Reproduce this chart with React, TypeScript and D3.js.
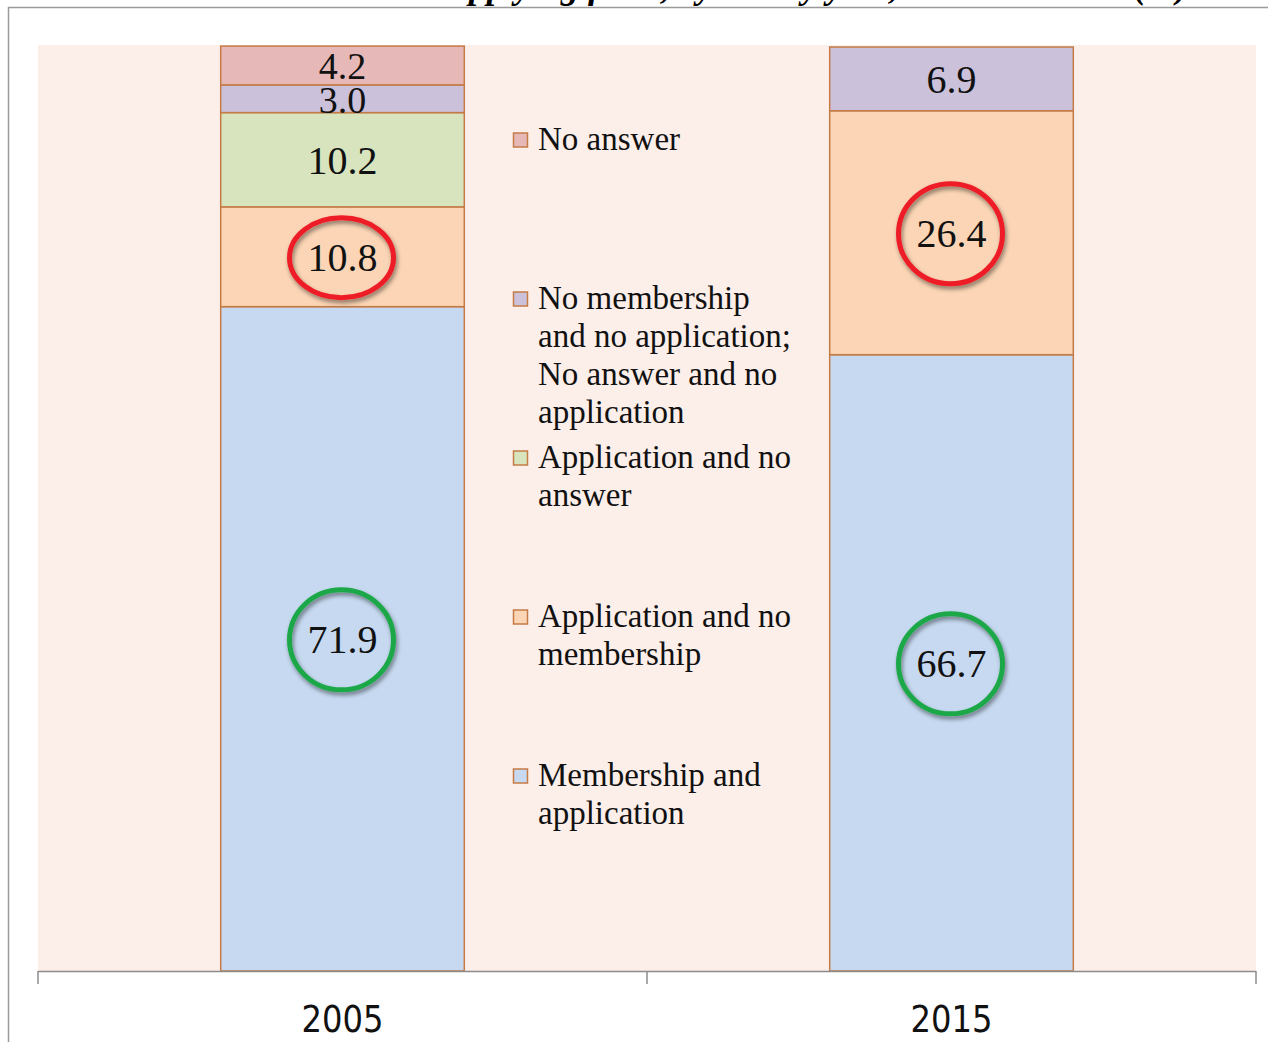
import { useRef, useEffect } from 'react';
import * as d3 from 'd3';

const categories = ["2005", "2015"];

// stacked from bottom to top
const seriesKeys = ["member", "appNoMember", "appNoAnswer", "noMemberNoApp", "noAnswer"];
const values2005 = [71.9, 10.8, 10.2, 3.0, 4.2];
const values2015 = [66.7, 26.4, 0, 6.9, 0];
const seriesColors = ["#C6D9F0", "#FBD5B5", "#D7E4BD", "#CCC1DA", "#E6B9B8"];

const legendLines = [
  ["Membership and", "application"],
  ["Application and no", "membership"],
  ["Application and no", "answer"],
  ["No membership", "and no application;", "No answer and no", "application"],
  ["No answer"],
];

// which series get the hand-drawn style rings
const redRingSeries = "appNoMember";
const greenRingSeries = "member";

const titleText = "Members and those applying for it, by survey year, 2005 and 2015 (%)";

const W = 1268;
const H = 1042;
const PLOT = { LEFT: 38, RIGHT: 1256, TOP: 47, BOTTOM: 971 };

const App = () => {
  const svgRef = useRef(null);

  useEffect(() => {
    const svg = d3.select(svgRef.current);
    svg.selectAll("*").remove();

    const rows = categories.map((c, i) => {
      const vals = i === 0 ? values2005 : values2015;
      const row = { cat: c };
      seriesKeys.forEach((k, j) => { row[k] = vals[j]; });
      return row;
    });
    const stacked = d3.stack().keys(seriesKeys)(rows);

    const xScale = d3.scaleBand()
      .domain(categories)
      .range([PLOT.LEFT, PLOT.RIGHT])
      .paddingInner(0)
      .paddingOuter(0);
    const barW = xScale.bandwidth() * 0.4;
    const barOff = (xScale.bandwidth() - barW) / 2;

    const yScale = d3.scaleLinear()
      .domain([0, 100])
      .range([PLOT.BOTTOM, PLOT.TOP]);

    const defs = svg.append("defs");
    const f = defs.append("filter").attr("id", "ringShadow")
      .attr("x", "-20%").attr("y", "-20%").attr("width", "140%").attr("height", "140%");
    f.append("feDropShadow")
      .attr("dx", 1.5).attr("dy", 3).attr("stdDeviation", 2)
      .attr("flood-color", "#000").attr("flood-opacity", 0.45);

    svg.append("rect").attr("width", W).attr("height", H).attr("fill", "#ffffff");

    // cut-off title above the frame
    svg.append("text")
      .attr("x", 1188)
      .attr("y", -2)
      .attr("text-anchor", "end")
      .attr("font-family", "'Liberation Serif', serif")
      .attr("font-style", "italic")
      .attr("font-weight", "bold")
      .attr("font-size", 36)
      .attr("fill", "#000")
      .text(titleText);

    // chart frame
    svg.append("path")
      .attr("d", `M8.5,${H} L8.5,7.5 L${W},7.5`)
      .attr("fill", "none")
      .attr("stroke", "#9a9a9a")
      .attr("stroke-width", 1.5);

    // plot area
    svg.append("rect")
      .attr("x", PLOT.LEFT)
      .attr("y", PLOT.TOP - 2)
      .attr("width", PLOT.RIGHT - PLOT.LEFT)
      .attr("height", PLOT.BOTTOM - PLOT.TOP + 2)
      .attr("fill", "#FCEEE9");

    const layers = svg.append("g").selectAll("g")
      .data(stacked)
      .enter().append("g")
      .attr("fill", (d, i) => seriesColors[i]);

    layers.selectAll("rect")
      .data(d => d.filter(s => s[1] - s[0] > 0))
      .enter().append("rect")
      .attr("x", d => xScale(d.data.cat) + barOff)
      .attr("y", d => yScale(d[1]))
      .attr("width", barW)
      .attr("height", d => yScale(d[0]) - yScale(d[1]))
      .attr("stroke", "#C47B45")
      .attr("stroke-width", 1.5);

    // value labels
    const labels = [];
    stacked.forEach((layer) => {
      layer.forEach((s) => {
        const v = s[1] - s[0];
        if (v <= 0) return;
        labels.push({
          key: layer.key,
          cx: xScale(s.data.cat) + xScale.bandwidth() / 2,
          cy: (yScale(s[0]) + yScale(s[1])) / 2,
          h: yScale(s[0]) - yScale(s[1]),
          v,
        });
      });
    });

    const ringed = labels.filter(l => l.key === redRingSeries || l.key === greenRingSeries);
    svg.append("g").selectAll("ellipse")
      .data(ringed)
      .enter().append("ellipse")
      .attr("cx", d => d.cx - 1)
      .attr("cy", d => d.cy + 1)
      .attr("rx", 52)
      .attr("ry", d => Math.min(50, d.h / 2 - 10))
      .attr("fill", "none")
      .attr("stroke", d => d.key === redRingSeries ? "#EE1C25" : "#1DA84A")
      .attr("stroke-width", 5)
      .attr("filter", "url(#ringShadow)");

    svg.append("g").selectAll("text")
      .data(labels)
      .enter().append("text")
      .attr("x", d => d.cx)
      .attr("y", d => d.cy + 14)
      .attr("text-anchor", "middle")
      .attr("font-family", "'Liberation Serif', serif")
      .attr("font-size", d => d.h < 45 ? 38 : 40)
      .attr("fill", "#111")
      .text(d => d.v.toFixed(1));

    // category axis, Excel style with ticks at band edges
    const ax = svg.append("g");
    ax.append("line")
      .attr("x1", PLOT.LEFT).attr("x2", PLOT.RIGHT)
      .attr("y1", PLOT.BOTTOM + 0.5).attr("y2", PLOT.BOTTOM + 0.5)
      .attr("stroke", "#8c8c8c").attr("stroke-width", 1.5);
    const edges = categories.map(c => xScale(c)).concat([PLOT.RIGHT]);
    ax.selectAll("line.tick")
      .data(edges)
      .enter().append("line")
      .attr("class", "tick")
      .attr("x1", d => d).attr("x2", d => d)
      .attr("y1", PLOT.BOTTOM).attr("y2", PLOT.BOTTOM + 13)
      .attr("stroke", "#8c8c8c").attr("stroke-width", 1.5);
    ax.selectAll("text")
      .data(categories)
      .enter().append("text")
      .attr("x", d => xScale(d) + xScale.bandwidth() / 2)
      .attr("y", 1032)
      .attr("text-anchor", "middle")
      .attr("font-family", "'Liberation Sans Narrow', 'DejaVu Sans Condensed', sans-serif")
      .attr("font-stretch", "condensed")
      .attr("font-size", 37)
      .attr("textLength", 82)
      .attr("lengthAdjust", "spacingAndGlyphs")
      .attr("fill", "#111")
      .text(d => d);

    // legend, top entry is the last stacked series
    const legendOrder = d3.range(seriesKeys.length).reverse();
    const lg = svg.append("g").attr("transform", "translate(513, 140)");
    legendOrder.forEach((si, row) => {
      const g = lg.append("g").attr("transform", `translate(0, ${row * 159})`);
      g.append("rect")
        .attr("x", 0.5).attr("y", -7)
        .attr("width", 14).attr("height", 14)
        .attr("fill", seriesColors[si])
        .attr("stroke", "#C47B45")
        .attr("stroke-width", 1.5);
      legendLines[si].forEach((line, li) => {
        g.append("text")
          .attr("x", 25)
          .attr("y", 10 + li * 38)
          .attr("font-family", "'Liberation Serif', serif")
          .attr("font-size", 33)
          .attr("fill", "#111")
          .text(line);
      });
    });
  }, []);

  return (
    <svg
      ref={svgRef}
      width={W}
      height={H}
      style={{ position: 'absolute', top: 0, left: 0, display: 'block' }}
    />
  );
};

export default App;
